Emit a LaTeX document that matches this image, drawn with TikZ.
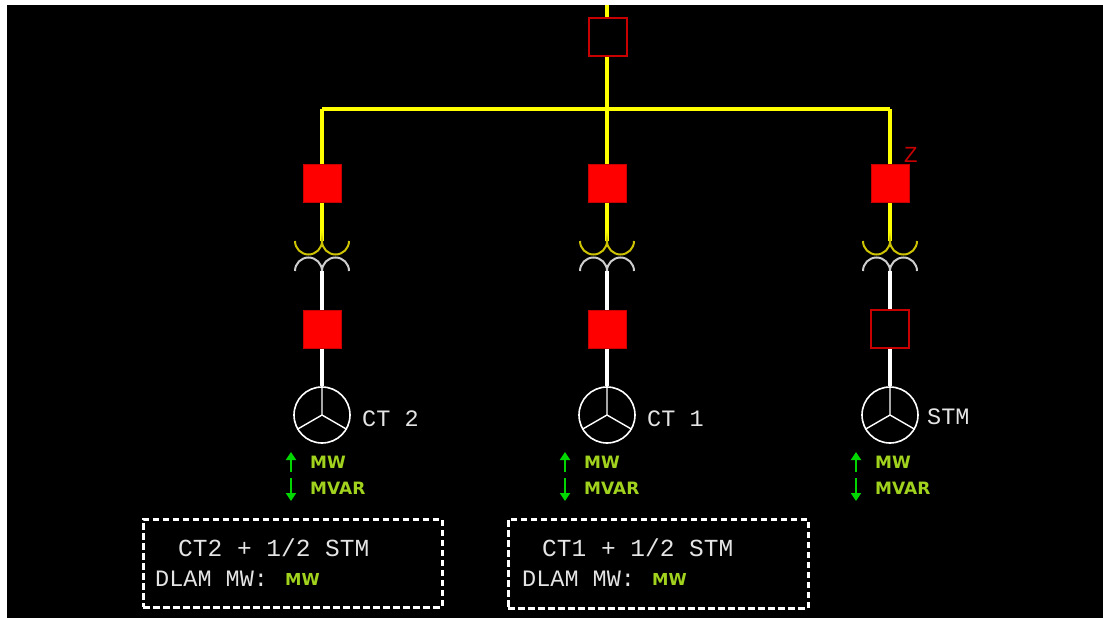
\documentclass[tikz,border=0pt]{standalone}
\usepackage{fontspec}
\usetikzlibrary{arrows.meta}
\newfontfamily\monof{Liberation Mono}
\newfontfamily\labf{DejaVu Sans}
\newfontfamily\zf{Liberation Sans}
\definecolor{ybus}{RGB}{255,255,0}
\definecolor{yarc}{RGB}{205,195,0}
\definecolor{warc}{RGB}{205,205,205}
\definecolor{redf}{RGB}{255,0,0}
\definecolor{redd}{RGB}{200,0,0}
\definecolor{txtg}{RGB}{228,228,228}
\definecolor{grn}{RGB}{0,215,0}
\definecolor{ygrn}{RGB}{160,210,30}
\tikzset{
  busline/.style={draw=ybus,line width=4pt},
  whiteline/.style={draw=white,line width=3.5pt},
  brkclosed/.style={rectangle,draw=redd,fill=redf,line width=1pt,minimum size=38pt,inner sep=0pt},
  brkopen/.style={rectangle,draw=redd,fill=black,line width=2pt,minimum size=38pt,inner sep=0pt},
  gen/.style={circle,draw=white,line width=1.6pt,minimum size=56pt,inner sep=0pt},
  yarcs/.style={draw=yarc,line width=2pt},
  warcs/.style={draw=warc,line width=2pt},
  monotxt/.style={text=txtg,inner sep=0pt,anchor=base west,font=\monof\fontsize{23.5}{24}\selectfont},
  boxtxt/.style={text=txtg,inner sep=0pt,anchor=base west,font=\monof\fontsize{24.5}{25}\selectfont},
  meas/.style={text=ygrn,inner sep=0pt,anchor=base west,font=\labf\bfseries\fontsize{17}{17}\selectfont},
  measb/.style={text=ygrn,inner sep=0pt,anchor=base west,font=\labf\bfseries\fontsize{16.5}{16}\selectfont},
  grnarrow/.style={draw=grn,line width=2.4pt,-{Triangle[width=10pt,length=8pt]}},
  dashbox/.style={draw=white,line width=3pt,dash pattern=on 6.5pt off 3.5pt}
}
\begin{document}
\begin{tikzpicture}[x=1pt,y=1pt]
\useasboundingbox (0,0) rectangle (1103,-618);
\fill[white] (0,0) rectangle (1103,-618);
\fill[black] (7,-5) rectangle (1103,-618);

% top feed
\coordinate (top) at (607,-5);
\coordinate (c1) at (322,-109);
\coordinate (c2) at (607,-109);
\coordinate (c3) at (890,-109);
\draw[busline] (top) -- (c2);
\node[brkopen] (tb) at (608,-37) {};
\draw[busline] (c1) -- (c3);

% columns
\foreach \i/\x/\lowstyle in {1/322/brkclosed, 2/607/brkclosed, 3/890/brkopen}{
  \node[brkclosed] (b\i) at (\x,-183.5) {};
  \coordinate (ty\i) at (\x,-241);
  \coordinate (tw\i) at (\x,-271);
  \node[\lowstyle] (l\i) at (\x,-329) {};
  \node[gen] (g\i) at (\x,-415) {};
  \draw[busline] (c\i) -- (b\i.north);
  \draw[busline] (b\i.south) -- (ty\i);
  \draw[yarcs] ([xshift=-27pt]ty\i) arc[start angle=180,end angle=360,radius=13.5pt]
      arc[start angle=180,end angle=360,radius=13.5pt];
  \draw[warcs] ([xshift=-27pt]tw\i) arc[start angle=180,end angle=0,radius=13.5pt]
      arc[start angle=180,end angle=0,radius=13.5pt];
  \draw[whiteline] (tw\i) -- (l\i.north);
  \draw[whiteline] (l\i.south) -- (g\i.north);
  \draw[white,line width=1.4pt] (g\i.center) -- (g\i.north)
     (g\i.center) -- (g\i.210) (g\i.center) -- (g\i.330);
}

% Z label
\node[inner sep=0pt,anchor=base west,text=redd,font=\zf\fontsize{22}{22}\selectfont] (zl) at (904,-162) {Z};

% generator labels
\node[monotxt] (n1) at (362,-426) {CT 2};
\node[monotxt] (n2) at (647,-426) {CT 1};
\node[monotxt] (n3) at (927,-424) {STM};

% measurements
\foreach \i/\ax in {1/291,2/565,3/856}{
  \coordinate (ua\i) at (\ax,-472);
  \coordinate (ub\i) at (\ax,-452);
  \coordinate (da\i) at (\ax,-478);
  \coordinate (db\i) at (\ax,-501);
  \draw[grnarrow] (ua\i) -- (ub\i);
  \draw[grnarrow] (da\i) -- (db\i);
  \node[meas] (mw\i) at (\ax+19,-468) {MW};
  \node[meas] (mv\i) at (\ax+19,-494) {MVAR};
}

% summary boxes
\node[dashbox,minimum width=299pt,minimum height=88pt,inner sep=0pt] (box1) at (292.5,-563) {};
\node[dashbox,minimum width=300pt,minimum height=89pt,inner sep=0pt] (box2) at (658,-563.5) {};
\node[boxtxt] (t1a) at (178,-556) {CT2 + 1/2 STM};
\node[monotxt] (t1b) at (155,-586) {DLAM MW:};
\node[measb] (t1c) at (285,-585) {MW};
\node[boxtxt] (t2a) at (542,-556) {CT1 + 1/2 STM};
\node[monotxt] (t2b) at (522,-586) {DLAM MW:};
\node[measb] (t2c) at (652,-585) {MW};
\end{tikzpicture}
\end{document}
